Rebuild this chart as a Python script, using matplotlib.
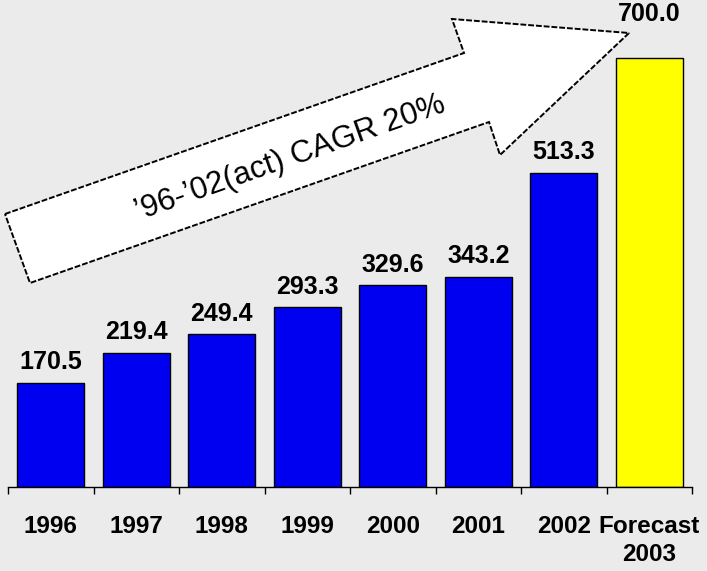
import matplotlib
matplotlib.use("Agg")
import matplotlib.pyplot as plt
from matplotlib.patches import Polygon

# data
years = ["1996", "1997", "1998", "1999", "2000", "2001", "2002", "Forecast\n2003"]
values = [170.5, 219.4, 249.4, 293.3, 329.6, 343.2, 513.3, 700.0]
colors = ["#0000f0"] * 7 + ["#ffff00"]
cagr_text = "\u201996-\u201902(act) CAGR 20%"

W, H = 707, 571
bg = "#ebebeb"
plt.rcParams["font.family"] = ["Liberation Sans", "DejaVu Sans"]

fig = plt.figure(figsize=(W / 100, H / 100), dpi=100, facecolor=bg)
ax = fig.add_axes([8 / W, 84 / H, 684 / W, 487 / H])
ax.set_facecolor(bg)

x = list(range(len(values)))
ax.bar(x, values, width=0.78, color=colors, edgecolor="black", linewidth=1.0, zorder=2)

for i, v in enumerate(values):
    off = 23 if i == len(values) - 1 else 6
    ax.annotate("%.1f" % v, (i, v), xytext=(0, off), textcoords="offset points",
                ha="center", va="bottom", fontsize=18, fontweight="bold")

ax.set_xlim(-0.5, len(values) - 0.5)
ax.set_ylim(0, 795)
for s in ["top", "left", "right"]:
    ax.spines[s].set_visible(False)
ax.spines["bottom"].set_linewidth(1.0)
ax.set_yticks([])
ax.set_xticks(x)
ax.set_xticklabels(years, fontsize=17.5, fontweight="bold", linespacing=1.3)
ax.set_xticks([i - 0.5 for i in range(len(values) + 1)], minor=True)
ax.tick_params(axis="x", which="major", length=0, pad=20)
ax.tick_params(axis="x", which="minor", length=5, width=1.0, direction="out")

# big white arrow (figure pixel coords, y measured from top)
arrow_px = [(5, 214), (464, 53), (452, 19), (629, 33), (500, 155), (489, 122), (30, 283)]
arrow_fig = [(px / W, 1 - py / H) for px, py in arrow_px]
poly = Polygon(arrow_fig, closed=True, transform=fig.transFigure, facecolor="white",
               edgecolor="black", linewidth=1.4, linestyle=(0, (3, 1)), zorder=5)
fig.patches.append(poly)
fig.text(290 / W, 1 - 158 / H, cagr_text, rotation=19.5, rotation_mode="anchor",
         ha="center", va="center", fontsize=22.5, zorder=6)

fig.savefig("out.png", dpi=100, facecolor=bg)
